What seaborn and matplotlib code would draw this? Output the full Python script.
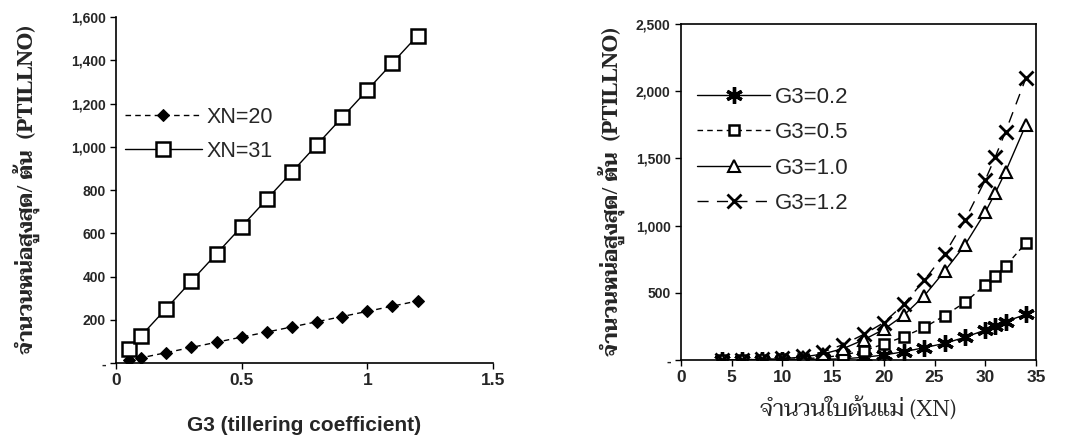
import matplotlib
matplotlib.use('Agg')
import matplotlib.pyplot as plt
import matplotlib.ticker as mticker
import seaborn as sns

# Left panel: PTILLNO vs G3 for two leaf numbers
g3 = [0.05, 0.1, 0.2, 0.3, 0.4, 0.5, 0.6, 0.7, 0.8, 0.9, 1.0, 1.1, 1.2]
xn20 = [12, 24, 48, 72, 96, 120, 143, 167, 191, 215, 239, 263, 287]
xn31 = [63, 126, 252, 379, 505, 631, 757, 883, 1010, 1136, 1262, 1388, 1514]

# Right panel: PTILLNO vs XN for four G3 values
xn = [4, 6, 8, 10, 12, 14, 16, 18, 20, 22, 24, 26, 28, 30, 31, 32, 34]
g3_02 = [0, 0, 1, 2, 3, 5, 9, 20, 37, 62, 92, 124, 169, 223, 253, 285, 340]
g3_05 = [0, 1, 2, 4, 9, 18, 37, 69, 119, 174, 243, 330, 429, 558, 625, 699, 870]
g3_10 = [1, 2, 4, 10, 22, 45, 85, 150, 228, 335, 479, 662, 856, 1099, 1245, 1401, 1749]
g3_12 = [1, 2, 5, 12, 28, 60, 115, 190, 278, 417, 595, 789, 1042, 1339, 1513, 1699, 2096]

sns.set_style('white')
plt.rcParams['font.family'] = ['Liberation Sans', 'Sarabun']

thai_bold = dict(family=['Taviraj', 'Liberation Serif'], weight='bold', fontsize=15)
yfmt = mticker.FuncFormatter(lambda v, p: '-' if v == 0 else f'{v:,.0f}')

fig = plt.figure(figsize=(10.66, 4.42), dpi=100)
ax1 = fig.add_axes([0.1088, 0.1787, 0.3537, 0.7828])
ax2 = fig.add_axes([0.6388, 0.1855, 0.333, 0.760])

# left chart
sns.lineplot(x=g3, y=xn20, ax=ax1, color='black', linestyle=(0, (4, 3)), linewidth=1,
             marker='D', markersize=6, markerfacecolor='black', markeredgecolor='black',
             label='XN=20')
sns.lineplot(x=g3, y=xn31, ax=ax1, color='black', linewidth=1,
             marker='s', markersize=10, markerfacecolor='white', markeredgecolor='black',
             markeredgewidth=1.8, label='XN=31')
ax1.set_xlim(0, 1.5)
ax1.set_ylim(0, 1600)
ax1.set_xticks([0, 0.5, 1, 1.5])
ax1.set_xticklabels(['0', '0.5', '1', '1.5'])
ax1.set_yticks(range(0, 1601, 200))
ax1.yaxis.set_major_formatter(yfmt)
ax1.set_xlabel('G3 (tillering coefficient)', fontsize=15, fontweight='bold', labelpad=20)
ax1.set_ylabel('จำนวนหน่อสูงสุด/ ต้น  (PTILLNO)', labelpad=22, **thai_bold)
for s in ['top', 'right']:
    ax1.spines[s].set_visible(False)
ax1.legend(loc='upper left', bbox_to_anchor=(0.0, 0.765), frameon=False, fontsize=15.5,
           handlelength=3.6, handletextpad=0.2, labelspacing=0.6, borderaxespad=0)

# right chart
sns.lineplot(x=xn, y=g3_02, ax=ax2, color='black', linewidth=1,
             marker=(6, 2, 0), markersize=12, markeredgecolor='black',
             markeredgewidth=2.4, label='G3=0.2')
sns.lineplot(x=xn, y=g3_05, ax=ax2, color='black', linestyle=(0, (4, 3)), linewidth=1,
             marker='s', markersize=7, markerfacecolor='white', markeredgecolor='black',
             markeredgewidth=1.8, label='G3=0.5')
sns.lineplot(x=xn, y=g3_10, ax=ax2, color='black', linewidth=1,
             marker='^', markersize=9, markerfacecolor='white', markeredgecolor='black',
             markeredgewidth=1.5, label='G3=1.0')
sns.lineplot(x=xn, y=g3_12, ax=ax2, color='black', linestyle=(0, (8, 6)), linewidth=1,
             marker='x', markersize=10, markeredgecolor='black', markeredgewidth=2,
             label='G3=1.2')
ax2.set_xlim(0, 35)
ax2.set_ylim(0, 2500)
ax2.set_xticks(range(0, 36, 5))
ax2.set_yticks(range(0, 2501, 500))
ax2.yaxis.set_major_formatter(yfmt)
ax2.set_xlabel('จำนวนใบต้นแม่ (XN)', family=['Taviraj', 'Liberation Serif'], fontsize=16.5,
               labelpad=8)
ax2.set_ylabel('จำนวนหน่อสูงสุด/ ต้น  (PTILLNO)', labelpad=8, **thai_bold)
ax2.legend(loc='upper left', bbox_to_anchor=(0.02, 0.84), frameon=False, fontsize=16,
           handlelength=3.3, handletextpad=0.2, labelspacing=0.65, borderaxespad=0)

for ax in (ax1, ax2):
    for s in ax.spines.values():
        s.set_color('black')
        s.set_linewidth(1.2)
    ax.tick_params(axis='both', direction='out', length=4, width=1, color='black',
                   bottom=True, left=True)
    for lab in ax.get_yticklabels():
        lab.set_fontweight('bold')
        lab.set_fontsize(10)
    for lab in ax.get_xticklabels():
        lab.set_fontweight('bold')
        lab.set_fontsize(12.5)

fig.savefig('out.png', dpi=100)
